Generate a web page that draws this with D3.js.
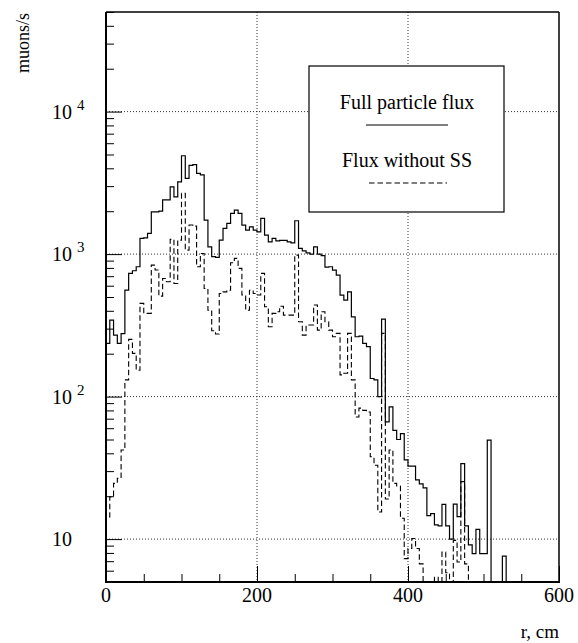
<!DOCTYPE html>
<html><head><meta charset="utf-8">
<script src="https://cdn.jsdelivr.net/npm/d3@7"></script>
<style>
body{margin:0;background:#fff}
svg{display:block}
text{font-family:"Liberation Serif","Times New Roman",serif;fill:#000}
</style>
</head><body>
<svg id="chart" width="578" height="643"></svg>
<script>
// ---- data (r in cm, 5 cm bins from 0 to 600) ----
const binWidth = 5;
const rBinStarts = d3.range(0, 600, binWidth);
const fullFlux = [
  236, 344, 270, 236, 277, 558, 732, 764, 815, 1290,
  1300, 1400, 1980, 1980, 2000, 2400, 2400, 2965, 2520, 3210,
  4900, 3400, 4200, 4250, 3680, 3600, 1730, 1125, 960, 950,
  1254, 1514, 1642, 1930, 2036, 1930, 1599, 1473, 1555, 1473,
  1433, 1782, 1359, 1219, 1289, 1240, 1250, 1250, 1219, 1200,
  1714, 1096, 1055, 1021, 1000, 1125, 1000, 975, 810, 815,
  773, 712, 516, 475, 543, 363, 263, 266, 236, 224,
  134, 131, 100, 350, 66.5, 84.8, 58, 50, 55, 36,
  32.5, 32.5, 26, 24.4, 22.9, 14.6, 15.1, 12.6, 12.4, 17.5,
  12.4, 10.0, 17.6, 14.4, 33.9, 12.4, 9.1, 7.9, 11.7, 7.9,
  7.9, 49.5, 0, 0, 0, 7.6, 0, 0, 0, 0,
  0, 0, 0, 0, 0, 0, 0, 0, 0, 0
];
const noSSFlux = [
  14.3, 19.8, 24.6, 26.7, 42.2, 131, 252, 201, 153, 451,
  384, 384, 837, 773, 507, 674, 640, 1268, 622, 1254,
  2666, 1067, 1599, 1571, 815, 1011, 574, 404, 290, 275,
  529, 543, 558, 869, 933, 794, 516, 404, 558, 529,
  516, 732, 427, 309, 384, 394, 431, 373, 373, 373,
  984, 335, 270, 318, 318, 439, 293, 394, 335, 293,
  263, 278, 142, 146, 278, 131, 72, 83, 80, 78,
  37.8, 33, 15.5, 278, 19.1, 42.2, 24.6, 23.6, 14.0, 7.3,
  8.6, 10.1, 8.6, 6.7, 0, 0, 0, 5.4, 0, 8.1,
  5.8, 0, 9.8, 6.9, 25.3, 6.7, 0, 0, 0, 0,
  0, 0, 0, 0, 0, 0, 0, 0, 0, 0,
  0, 0, 0, 0, 0, 0, 0, 0, 0, 0
];
const xDomain = [0, 600];
const yDomain = [5, 50000];
const xMajorTicks = [0, 200, 400, 600];
const xMinorTicks = d3.range(0, 601, 50);
const yTickValues = [10, 100, 1000, 10000];
const yTickExponents = ["", "2", "3", "4"];
const legendLabels = ["Full particle flux", "Flux without SS"];
const xTitle = "r, cm";
const yTitle = "muons/s";

// ---- layout ----
const L = 106, R = 559, T = 12, B = 582;
const svg = d3.select("#chart");
const x = d3.scaleLinear().domain(xDomain).range([L, R]);
const y = d3.scaleLog().domain(yDomain).range([B, T]);
const yv = v => y(Math.max(v, yDomain[0]));

// grid
const grid = svg.append("g").attr("stroke", "#333").attr("stroke-width", 1).attr("stroke-dasharray", "1,2");
[200, 400].forEach(v => grid.append("line").attr("x1", x(v)).attr("x2", x(v)).attr("y1", T).attr("y2", B));
yTickValues.forEach(v => grid.append("line").attr("x1", L).attr("x2", R).attr("y1", y(v)).attr("y2", y(v)));

// y minor ticks
const yMinor = [];
for (let e = 0; e < 5; e++) for (let m = 1; m < 10; m++) {
  const v = m * Math.pow(10, e);
  if (v >= yDomain[0] && v <= yDomain[1] && m !== 1) yMinor.push(v);
}
const axisStyle = g => { g.select(".domain").remove(); g.selectAll(".tick line").attr("stroke", "#000").attr("stroke-width", 1); g.selectAll(".tick text").remove(); };
svg.append("g").attr("transform", `translate(${L},0)`)
  .call(d3.axisLeft(y).tickValues(yMinor).tickSizeInner(-8).tickSizeOuter(0)).call(axisStyle);
svg.append("g").attr("transform", `translate(${L},0)`)
  .call(d3.axisLeft(y).tickValues(yTickValues).tickSizeInner(-16).tickSizeOuter(0)).call(axisStyle);
svg.append("g").attr("transform", `translate(0,${B})`)
  .call(d3.axisBottom(x).tickValues(xMinorTicks).tickSizeInner(-8).tickSizeOuter(0)).call(axisStyle);
svg.append("g").attr("transform", `translate(0,${B})`)
  .call(d3.axisBottom(x).tickValues(xMajorTicks).tickSizeInner(-16).tickSizeOuter(0)).call(axisStyle);

// histograms
function stepPath(vals) {
  const pts = [[x(rBinStarts[0]), B]];
  vals.forEach((v, i) => pts.push([x(rBinStarts[i]), yv(v)]));
  pts.push([x(rBinStarts[vals.length - 1] + binWidth), yv(vals[vals.length - 1])]);
  pts.push([x(rBinStarts[vals.length - 1] + binWidth), B]);
  return d3.line().curve(d3.curveStepAfter)(pts);
}
svg.append("path").attr("d", stepPath(noSSFlux)).attr("fill", "none").attr("stroke", "#000")
  .attr("stroke-width", 1.1).attr("stroke-dasharray", "5.5,3");
svg.append("path").attr("d", stepPath(fullFlux)).attr("fill", "none").attr("stroke", "#000")
  .attr("stroke-width", 1.2);

// frame
svg.append("line").attr("x1", L).attr("x2", L).attr("y1", T).attr("y2", B + 1).attr("stroke", "#000").attr("stroke-width", 2);
svg.append("line").attr("x1", L - 1).attr("x2", R + 1).attr("y1", B).attr("y2", B).attr("stroke", "#000").attr("stroke-width", 2);
svg.append("line").attr("x1", L).attr("x2", R).attr("y1", T).attr("y2", T).attr("stroke", "#000").attr("stroke-width", 1.5);
svg.append("line").attr("x1", R).attr("x2", R).attr("y1", T).attr("y2", B).attr("stroke", "#000").attr("stroke-width", 1.5);

// tick labels
xMajorTicks.forEach(v => svg.append("text").attr("x", x(v)).attr("y", 602).attr("text-anchor", "middle")
  .attr("font-size", 20).text(v));
yTickValues.forEach((v, i) => {
  const t = svg.append("text").attr("x", 52).attr("y", y(v) + 7).attr("font-size", 20);
  t.append("tspan").text("10");
  if (yTickExponents[i]) t.append("tspan").attr("dx", 5).attr("dy", -9).attr("font-size", 15).text(yTickExponents[i]);
});

// axis titles
svg.append("text").attr("x", R).attr("y", 638).attr("text-anchor", "end").attr("font-size", 19).text(xTitle);
svg.append("text").attr("transform", "translate(29,13) rotate(-90)").attr("text-anchor", "end")
  .attr("font-size", 18).text(yTitle);

// legend
const lg = svg.append("g");
lg.append("rect").attr("x", 309).attr("y", 66).attr("width", 195).attr("height", 146)
  .attr("fill", "#fff").attr("stroke", "#000").attr("stroke-width", 1.2);
lg.append("text").attr("x", 407).attr("y", 109).attr("text-anchor", "middle").attr("font-size", 20).text(legendLabels[0]);
lg.append("line").attr("x1", 366).attr("x2", 448).attr("y1", 125).attr("y2", 125).attr("stroke", "#000").attr("stroke-width", 1.2);
lg.append("text").attr("x", 407).attr("y", 167).attr("text-anchor", "middle").attr("font-size", 20).text(legendLabels[1]);
lg.append("line").attr("x1", 369).attr("x2", 447).attr("y1", 183).attr("y2", 183).attr("stroke", "#000")
  .attr("stroke-width", 1.1).attr("stroke-dasharray", "5.5,3");
</script>
</body></html>
